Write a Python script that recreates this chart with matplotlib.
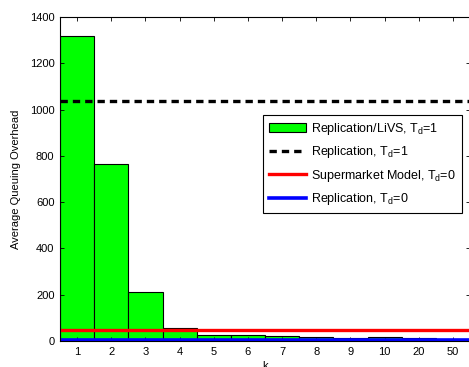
import numpy as np
import matplotlib.pyplot as plt

plt.rcParams['font.family'] = ['Liberation Sans', 'DejaVu Sans']
plt.rcParams['mathtext.default'] = 'regular'

K_LABELS = ["1", "2", "3", "4", "5", "6", "7", "8", "9", "10", "20", "50"]
LIVS_TD1 = [1320, 765, 210, 57, 28, 24, 20, 17, 12, 16, 11, 9]  # bars
REPL_TD1 = 1038
SUPERMARKET_TD0 = 46
REPL_TD0 = 6

x = np.arange(1, len(K_LABELS) + 1)

fig = plt.figure(figsize=(4.69, 3.67), dpi=100)
ax = fig.add_axes([60 / 469, 26 / 367, 410 / 469, 324 / 367])

bars = ax.bar(x, LIVS_TD1, width=1.0, color="#00ff00", edgecolor="black", linewidth=0.8,
              label=r"Replication/LiVS, T$_d$=1", zorder=1)
l1 = ax.axhline(REPL_TD1, color="black", linewidth=2.4, linestyle=(0, (2.2, 1.5)),
                label=r"Replication, T$_d$=1", zorder=2)
l2 = ax.axhline(SUPERMARKET_TD0, color="red", linewidth=2.4,
                label=r"Supermarket Model, T$_d$=0", zorder=2)
l3 = ax.axhline(REPL_TD0, color="blue", linewidth=2.6,
                label=r"Replication, T$_d$=0", zorder=2)

ax.set_xlim(0.5, len(K_LABELS) + 0.5)
ax.set_ylim(0, 1400)
ax.set_xticks(x)
ax.set_xticklabels(K_LABELS)
ax.set_yticks(np.arange(0, 1401, 200))
ax.tick_params(direction="in", top=True, right=True, length=3, width=0.6,
               labelsize=8, pad=4)
for s in ax.spines.values():
    s.set_linewidth(0.8)

ax.set_xlabel("k", fontsize=8, labelpad=3)
ax.set_ylabel("Average Queuing Overhead", fontsize=8, labelpad=6)

leg = ax.legend(handles=[bars, l1, l2, l3], loc="upper left",
                bbox_to_anchor=(0.496, 0.6975), borderaxespad=0,
                fontsize=9, fancybox=False, framealpha=1, edgecolor="black",
                handlelength=3.0, handletextpad=0.4, labelspacing=0.6,
                borderpad=0.45)
leg.get_frame().set_linewidth(0.8)

fig.savefig("out.png", dpi=100)
